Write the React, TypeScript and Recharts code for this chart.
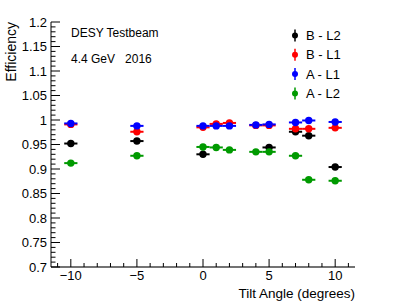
import React from 'react';
import { ScatterChart, Scatter, XAxis, YAxis, ErrorBar } from 'recharts';

// tilt angles (degrees) of each measurement
const anglesBL2 = [-10, -5, 0, 5, 7, 8, 10];
const anglesAll = [-10, -5, 0, 1, 2, 4, 5, 7, 8, 10];

// efficiencies
const effBL2 = [0.952, 0.957, 0.930, 0.944, 0.976, 0.968, 0.904];
const effBL1 = [0.991, 0.976, 0.985, 0.992, 0.994, 0.989, 0.989, 0.982, 0.982, 0.984];
const effAL1 = [0.993, 0.988, 0.988, 0.988, 0.988, 0.990, 0.991, 0.995, 0.999, 0.996];
const effAL2 = [0.912, 0.927, 0.945, 0.944, 0.939, 0.935, 0.935, 0.927, 0.878, 0.876];

const angleErr = 0.5;

const xMajorTicks = [-10, -5, 0, 5, 10];
const yMajorTicks = [0.7, 0.75, 0.8, 0.85, 0.9, 0.95, 1, 1.05, 1.1, 1.15, 1.2];

const FONT = '"Liberation Sans", Arial, Helvetica, sans-serif';

const toPoints = (xs: number[], ys: number[]) =>
  xs.map((x, i) => ({ x, y: ys[i], ex: angleErr }));

const series = [
  { name: 'B - L2', color: '#000000', data: toPoints(anglesBL2, effBL2) },
  { name: 'B - L1', color: '#ff0000', data: toPoints(anglesAll, effBL1) },
  { name: 'A - L1', color: '#0000ff', data: toPoints(anglesAll, effAL1) },
  { name: 'A - L2', color: '#009a00', data: toPoints(anglesAll, effAL2) },
];

// minor ticks: x every 1 degree, y every 0.01
const xTicks: number[] = [];
for (let v = -11; v <= 11; v++) xTicks.push(v);
const yTicks: number[] = [];
for (let i = 70; i <= 120; i++) yTicks.push(i / 100);

const XTick = (props: any) => {
  const { x, y, payload } = props;
  const v = payload.value;
  const major = xMajorTicks.includes(v);
  return (
    <g>
      <line x1={x} y1={y} x2={x} y2={y - (major ? 8 : 4)} stroke="#000" strokeWidth={1} />
      {major && (
        <text x={x} y={y + 12.5} textAnchor="middle" fontSize={13} fontFamily={FONT} fill="#000">
          {v < 0 ? `\u2212${-v}` : `${v}`}
        </text>
      )}
    </g>
  );
};

const YTick = (props: any) => {
  const { x, y, payload } = props;
  const v = Math.round(payload.value * 100) / 100;
  const major = yMajorTicks.some((t) => Math.abs(t - v) < 1e-6);
  return (
    <g>
      <line x1={x} y1={y} x2={x + (major ? 9 : 4.5)} y2={y} stroke="#000" strokeWidth={1} />
      {major && (
        <text x={x - 4} y={y} textAnchor="end" dominantBaseline="central" fontSize={13} fontFamily={FONT} fill="#000">
          {String(v)}
        </text>
      )}
    </g>
  );
};

const App: React.FC = () => {
  return (
    <div style={{ position: 'absolute', left: 0, top: 0, width: 407, height: 308, background: '#fff', fontFamily: FONT }}>
      <ScatterChart width={407} height={308} margin={{ top: 22, right: 52, bottom: 0, left: 0 }}>
        <XAxis
          xAxisId="main"
          type="number"
          dataKey="x"
          domain={[-11.5, 11.5]}
          allowDataOverflow
          ticks={xTicks}
          interval={0}
          tick={<XTick />}
          tickSize={0}
          tickMargin={0}
          height={41}
          axisLine={{ stroke: '#444', strokeWidth: 1.5 }}
        />
        <XAxis
          xAxisId="top"
          orientation="top"
          type="number"
          domain={[-11.5, 11.5]}
          height={0}
          tick={false}
          tickLine={false}
          axisLine={{ stroke: '#000', strokeWidth: 1 }}
        />
        <YAxis
          yAxisId="main"
          type="number"
          dataKey="y"
          domain={[0.7, 1.2]}
          allowDataOverflow
          ticks={yTicks}
          interval={0}
          tick={<YTick />}
          tickSize={0}
          tickMargin={0}
          width={51}
          axisLine={{ stroke: '#000', strokeWidth: 1 }}
        />
        <YAxis
          yAxisId="right"
          orientation="right"
          type="number"
          domain={[0.7, 1.2]}
          width={0}
          tick={false}
          tickLine={false}
          axisLine={{ stroke: '#999', strokeWidth: 2 }}
        />
        {series.map((s) => (
          <Scatter
            key={s.name}
            name={s.name}
            data={s.data}
            xAxisId="main"
            yAxisId="main"
            fill={s.color}
            isAnimationActive={false}
            shape={(p: any) => <circle cx={p.cx} cy={p.cy} r={3.7} fill={s.color} />}
          >
            <ErrorBar dataKey="ex" direction="x" width={0} stroke={s.color} strokeWidth={2} />
          </Scatter>
        ))}
      </ScatterChart>

      <svg width={407} height={308} style={{ position: 'absolute', left: 0, top: 0, pointerEvents: 'none' }}>
        <text x={71} y={37.3} fontSize={12} fontFamily={FONT} fill="#000">DESY Testbeam</text>
        <text x={71} y={62.7} fontSize={12} fontFamily={FONT} fill="#000" style={{ whiteSpace: 'pre' }}>
          {'4.4 GeV   2016'}
        </text>
        <text
          x={16}
          y={22}
          transform="rotate(-90 16 22)"
          textAnchor="end"
          fontSize={14}
          fontFamily={FONT}
          fill="#000"
        >
          Efficiency
        </text>
        <text x={355} y={298} textAnchor="end" fontSize={13.5} fontFamily={FONT} fill="#000">
          Tilt Angle (degrees)
        </text>
        {series.map((s, i) => {
          const cy = 35.5 + i * 19.3;
          return (
            <g key={s.name}>
              <line x1={295} y1={cy - 6} x2={295} y2={cy + 6} stroke={s.color} strokeWidth={1.5} />
              <circle cx={295} cy={cy} r={3} fill={s.color} />
              <text x={306} y={cy} dominantBaseline="central" fontSize={13} fontFamily={FONT} fill="#000">
                {s.name}
              </text>
            </g>
          );
        })}
      </svg>
    </div>
  );
};

export default App;
